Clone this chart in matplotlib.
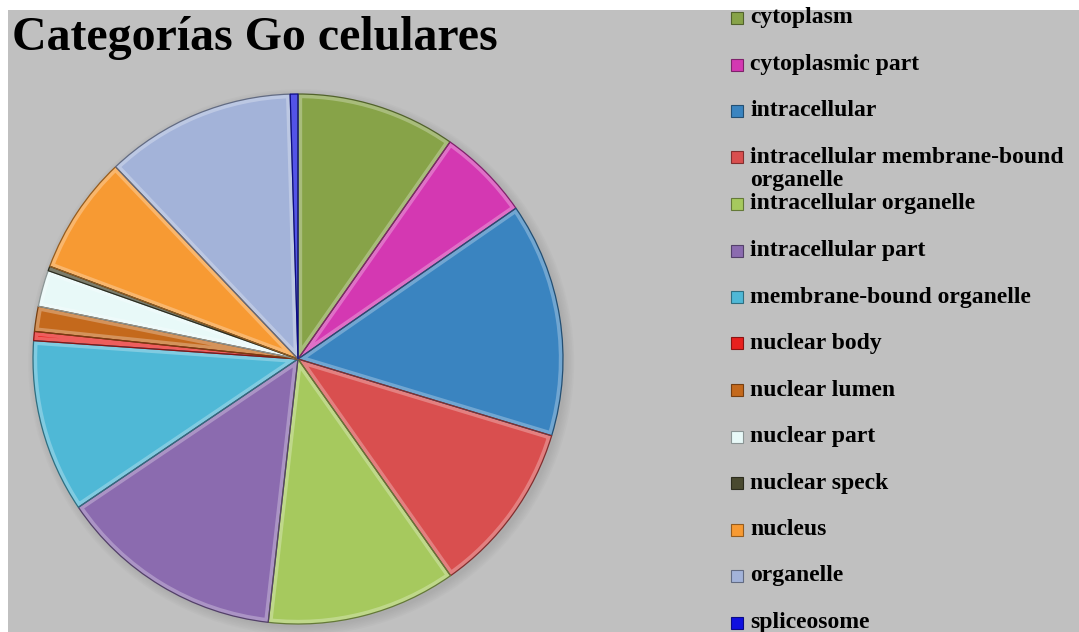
import numpy as np
import matplotlib.pyplot as plt
from matplotlib.patches import Rectangle, Wedge
from matplotlib import colors as mcolors

labels = ['cytoplasm', 'cytoplasmic part', 'intracellular',
          'intracellular membrane-bound\norganelle', 'intracellular organelle',
          'intracellular part', 'membrane-bound organelle', 'nuclear body',
          'nuclear lumen', 'nuclear part', 'nuclear speck', 'nucleus',
          'organelle', 'spliceosome']
values = [35.0, 20.3, 51.5, 38.0, 41.6, 49.5, 38.0, 2.0, 5.5, 8.0, 1.0, 26.0, 41.8, 1.7]
colors = ['#87a348', '#d438b2', '#3a84c0', '#d94f4f', '#a6c95e', '#8b6baf',
          '#4fb8d6', '#e8201e', '#c4691c', '#e8f9f8', '#4a4a30', '#f79a33',
          '#a3b3d9', '#1010e0']

W, H = 1079, 632
fig = plt.figure(figsize=(W / 100, H / 100), dpi=100, facecolor='white')
bg = fig.add_axes([8 / W, 0, 1 - 8 / W, 1 - 10 / H], zorder=0)
bg.set_facecolor('#c0c0c0')
bg.set_xticks([])
bg.set_yticks([])
for s in bg.spines.values():
    s.set_visible(False)

cx, cy, r = 298, 359, 265
ax = fig.add_axes([(cx - r) / W, (H - cy - r) / H, 2 * r / W, 2 * r / H], zorder=1)

# soft shadow under the pie
for k in range(6):
    ax.add_patch(plt.Circle((0.012, -0.012), 1.0 + 0.006 * k, color='#808080',
                            alpha=0.05, lw=0, zorder=0, clip_on=False))

wedges, _ = ax.pie(values, colors=colors, startangle=90, counterclock=False,
                   radius=1.0, wedgeprops=dict(linewidth=0))
ax.set_xlim(-1, 1)
ax.set_ylim(-1, 1)
ax.axis('off')

# bevel: light rim clipped inside each wedge, then a thin dark outline
for w, c in zip(wedges, colors):
    w.set_clip_on(False)
    rgb = np.array(mcolors.to_rgb(c))
    light = rgb + (1 - rgb) * 0.4
    dark = rgb * 0.6
    hi = Wedge(w.center, w.r, w.theta1, w.theta2, facecolor='none',
               edgecolor=light, linewidth=6, alpha=0.7, zorder=3)
    ax.add_patch(hi)
    hi.set_clip_path(w)
    ax.add_patch(Wedge(w.center, w.r, w.theta1, w.theta2, facecolor='none',
                       edgecolor=dark, linewidth=0.9, zorder=4, clip_on=False))

fig.text(12 / W, 1 - 38 / H, 'Categorías Go celulares', fontsize=34.5,
         fontweight='bold', family='Liberation Serif', va='center', ha='left',
         zorder=5)

# legend column
y0, step = 18, 46.5
for i, (lab, c) in enumerate(zip(labels, colors)):
    y = y0 + i * step
    rgb = np.array(mcolors.to_rgb(c))
    fig.patches.append(Rectangle((731 / W, 1 - (y + 6) / H), 12 / W, 12 / H,
                                 transform=fig.transFigure, facecolor=c,
                                 edgecolor=rgb * 0.6, lw=0.8, zorder=5))
    for j, line in enumerate(lab.split('\n')):
        fig.text(750 / W, 1 - (y + j * 23) / H, line, fontsize=17,
                 fontweight='bold', family='Liberation Serif', va='center',
                 ha='left', zorder=5)

fig.savefig('out.png', dpi=100, facecolor=fig.get_facecolor())
